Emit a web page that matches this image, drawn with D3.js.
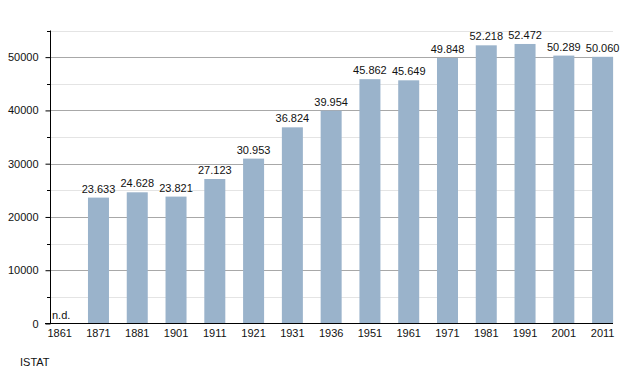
<!DOCTYPE html>
<html><head><meta charset="utf-8">
<script src="https://cdn.jsdelivr.net/npm/d3@7"></script>
<style>body{margin:0;background:#fff}svg{display:block}text{font-family:"Liberation Sans",Arial,sans-serif}</style>
</head><body>
<svg id="c" width="643" height="373"></svg>
<script>
const years = ["1861","1871","1881","1901","1911","1921","1931","1936","1951","1961","1971","1981","1991","2001","2011"];
const population = [null,23633,24628,23821,27123,30953,36824,39954,45862,45649,49848,52218,52472,50289,50060];
const yTicks = [0,10000,20000,30000,40000,50000];
const yMinorTicks = [5000,15000,25000,35000,45000,55000];
const source = "ISTAT";

const svg = d3.select("#c");
const x = d3.scaleBand().domain(years).range([40.3, 622]).padding(0);
const y = d3.scaleLinear().domain([0,55000]).range([323.5, 30.5]);
const barW = 21;
const axL = 50, axR = 613;

// minor grid
svg.append("g").selectAll("line").data(yMinorTicks).join("line")
  .attr("x1", axL).attr("x2", axR).attr("y1", d=>Math.round(y(d))+0.5).attr("y2", d=>Math.round(y(d))+0.5)
  .attr("stroke", "#e4e4e4").attr("stroke-width", 1);
// major grid
svg.append("g").selectAll("line").data(yTicks.filter(d=>d>0)).join("line")
  .attr("x1", axL).attr("x2", axR).attr("y1", d=>Math.round(y(d))+0.5).attr("y2", d=>Math.round(y(d))+0.5)
  .attr("stroke", "#a8a8a8").attr("stroke-width", 1);

// bars
const data = years.map((yr,i)=>({yr, v: population[i]}));
svg.append("g").selectAll("rect").data(data.filter(d=>d.v!=null)).join("rect")
  .attr("x", d=>x(d.yr) + (x.bandwidth()-barW)/2)
  .attr("y", d=>y(d.v))
  .attr("width", barW)
  .attr("height", d=>y(0)-y(d.v))
  .attr("fill", "#9ab3cb");

// value labels
const fmt = v => d3.format(",")(v).replace(/,/g, ".");
svg.append("g").selectAll("text").data(data.filter(d=>d.v!=null)).join("text")
  .attr("x", d=>x(d.yr) + x.bandwidth()/2)
  .attr("y", d=>y(d.v) - 5)
  .attr("text-anchor", "middle")
  .attr("font-size", 11).attr("fill", "#111")
  .text(d=>fmt(d.v));
svg.append("g").selectAll("text").data(data.filter(d=>d.v==null)).join("text")
  .attr("x", axL + 2).attr("y", y(0) - 5)
  .attr("font-size", 11).attr("fill", "#111")
  .text("n.d.");

// y axis
const yAxis = d3.axisLeft(y).tickValues(yTicks).tickSize(5).tickFormat(d=>d);
const gy = svg.append("g").attr("transform", `translate(${axL+0.5},0)`).call(yAxis);
gy.select(".domain").remove();
gy.selectAll(".tick line").attr("stroke", "#000");
gy.selectAll(".tick text").attr("font-size", 11).attr("fill", "#111").attr("x", -12).attr("font-family", '"Liberation Sans",Arial,sans-serif');
svg.append("g").selectAll("line").data(yMinorTicks).join("line")
  .attr("x1", axL-3).attr("x2", axL).attr("y1", d=>Math.round(y(d))+0.5).attr("y2", d=>Math.round(y(d))+0.5)
  .attr("stroke", "#000");
svg.append("line").attr("x1", axL+0.5).attr("x2", axL+0.5).attr("y1", y(55000)).attr("y2", y(0)).attr("stroke", "#000");

// x axis
const xAxis = d3.axisBottom(x).tickSize(0).tickPadding(6);
const gx = svg.append("g").attr("transform", `translate(0,${y(0)})`).call(xAxis);
gx.select(".domain").remove();
gx.selectAll(".tick text").attr("font-size", 11).attr("fill", "#111").attr("font-family", '"Liberation Sans",Arial,sans-serif');
svg.append("line").attr("x1", 45).attr("x2", axR).attr("y1", y(0)).attr("y2", y(0)).attr("stroke", "#000");

svg.append("text").attr("x", 20).attr("y", 366).attr("font-size", 11).attr("fill", "#111").text(source);
</script>
</body></html>
